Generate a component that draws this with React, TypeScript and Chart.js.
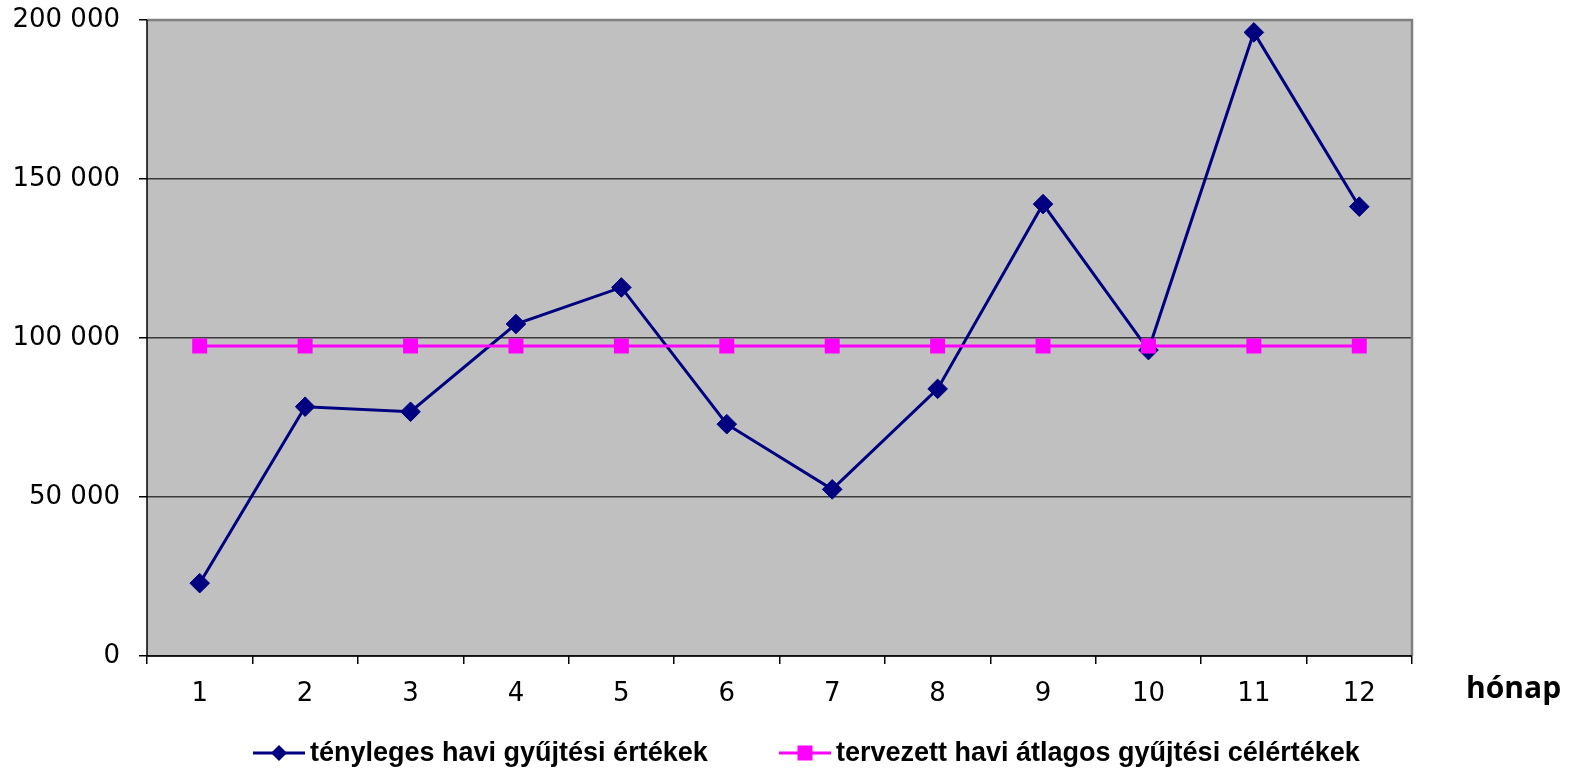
import React, { useEffect, useRef } from "react";
import { Chart, registerables } from "chart.js";

Chart.register(...registerables);

const months = ["1", "2", "3", "4", "5", "6", "7", "8", "9", "10", "11", "12"];
const actualValues = [22900, 78400, 76800, 104400, 115900, 72900, 52400, 84000, 142100, 96200, 196100, 141300];
const targetValues = [97500, 97500, 97500, 97500, 97500, 97500, 97500, 97500, 97500, 97500, 97500, 97500];
const yTicks = [0, 50000, 100000, 150000, 200000];
const actualLabel = "tényleges havi gyűjtési értékek";
const targetLabel = "tervezett havi átlagos gyűjtési célértékek";
const xTitle = "hónap";

const NAVY = "#000080";
const MAGENTA = "#FF00FF";

const fmt = (v: number) => String(v).replace(/\B(?=(\d{3})+(?!\d))/g, " ");

const decorPlugin = {
  id: "decor",
  beforeDraw(chart: any) {
    const { ctx, chartArea: a } = chart;
    ctx.save();
    ctx.fillStyle = "#C0C0C0";
    ctx.fillRect(a.left, a.top, a.right - a.left, a.bottom - a.top);
    ctx.restore();
  },
  beforeDatasetsDraw(chart: any) {
    const { ctx, chartArea: a } = chart;
    ctx.save();
    ctx.strokeStyle = "#808080";
    ctx.lineWidth = 2.5;
    ctx.beginPath();
    ctx.moveTo(a.left, a.top);
    ctx.lineTo(a.right, a.top);
    ctx.lineTo(a.right, a.bottom);
    ctx.stroke();
    ctx.strokeStyle = "#000000";
    ctx.lineWidth = 1.5;
    ctx.beginPath();
    ctx.moveTo(a.left, a.top);
    ctx.lineTo(a.left, a.bottom);
    ctx.lineTo(a.right, a.bottom);
    ctx.stroke();
    ctx.restore();
  },
  afterDraw(chart: any) {
    const { ctx } = chart;
    ctx.save();
    // axis title
    ctx.fillStyle = "#000";
    ctx.font = "bold 30px 'Open Sans'";
    ctx.textBaseline = "alphabetic";
    ctx.textAlign = "left";
    ctx.fillText(xTitle, 1466, 698);

    // legend
    const ly = 753;
    ctx.textBaseline = "middle";
    ctx.font = "bold 27px 'Liberation Sans'";
    // item 1
    ctx.strokeStyle = NAVY;
    ctx.lineWidth = 3;
    ctx.beginPath();
    ctx.moveTo(253, ly);
    ctx.lineTo(305, ly);
    ctx.stroke();
    ctx.fillStyle = NAVY;
    ctx.beginPath();
    ctx.moveTo(279, ly - 8);
    ctx.lineTo(287, ly);
    ctx.lineTo(279, ly + 8);
    ctx.lineTo(271, ly);
    ctx.closePath();
    ctx.fill();
    ctx.fillStyle = "#000";
    ctx.fillText(actualLabel, 310, ly + 1);
    // item 2
    ctx.strokeStyle = MAGENTA;
    ctx.lineWidth = 3;
    ctx.beginPath();
    ctx.moveTo(779, ly);
    ctx.lineTo(831, ly);
    ctx.stroke();
    ctx.fillStyle = MAGENTA;
    ctx.fillRect(805 - 7.5, ly - 7.5, 15, 15);
    ctx.fillStyle = "#000";
    ctx.fillText(targetLabel, 836, ly + 1);
    ctx.restore();
  },
};

export default function App() {
  const ref = useRef<HTMLCanvasElement | null>(null);

  useEffect(() => {
    document.body.style.margin = "0";
    if (!ref.current) return;
    const chart = new Chart(ref.current, {
      type: "line",
      data: {
        labels: months,
        datasets: [
          {
            label: actualLabel,
            data: actualValues,
            borderColor: NAVY,
            backgroundColor: NAVY,
            borderWidth: 3,
            pointStyle: "rectRot",
            pointRadius: 9.8,
            pointBorderWidth: 1,
            pointBorderColor: NAVY,
            pointBackgroundColor: NAVY,
            tension: 0,
            order: 1,
          },
          {
            label: targetLabel,
            data: targetValues,
            borderColor: MAGENTA,
            backgroundColor: MAGENTA,
            borderWidth: 3,
            pointStyle: "rect",
            pointRadius: 10.6,
            pointBorderWidth: 0,
            pointBackgroundColor: MAGENTA,
            tension: 0,
            order: 0,
          },
        ],
      },
      options: {
        animation: false,
        responsive: false,
        devicePixelRatio: 1,
        layout: { padding: { left: 0, right: 164, top: 20, bottom: 60 } },
        plugins: {
          legend: { display: false },
          tooltip: { enabled: false },
        },
        scales: {
          x: {
            type: "category",
            offset: true,
            grid: {
              offset: true,
              drawOnChartArea: false,
              drawTicks: true,
              tickLength: 8,
              color: "#000",
              lineWidth: 1.5,
            },
            border: { display: false },
            ticks: {
              color: "#000",
              font: { family: "'DejaVu Sans'", size: 26 },
              padding: 15,
              maxRotation: 0,
            },
            afterFit(scale: any) {
              scale.height = 55;
              scale.paddingLeft = 0;
              scale.paddingRight = 0;
            },
          },
          y: {
            min: 0,
            max: 200000,
            afterBuildTicks(scale: any) {
              scale.ticks = yTicks.map((v) => ({ value: v }));
            },
            grid: {
              color: "#3a3a3a",
              lineWidth: 1.5,
              tickColor: "#000",
              tickLength: 8,
            },
            border: { display: false },
            ticks: {
              color: "#000",
              font: { family: "'DejaVu Sans'", size: 26 },
              padding: 19,
              callback: (v: any) => fmt(Number(v)),
            },
            afterFit(scale: any) {
              scale.width = 147;
              scale.paddingTop = 0;
              scale.paddingBottom = 0;
            },
          },
        },
      },
      plugins: [decorPlugin],
    });
    return () => chart.destroy();
  }, []);

  return (
    <div style={{ width: 1576, height: 771 }}>
      <canvas ref={ref} width={1576} height={771} style={{ display: "block" }} />
    </div>
  );
}
